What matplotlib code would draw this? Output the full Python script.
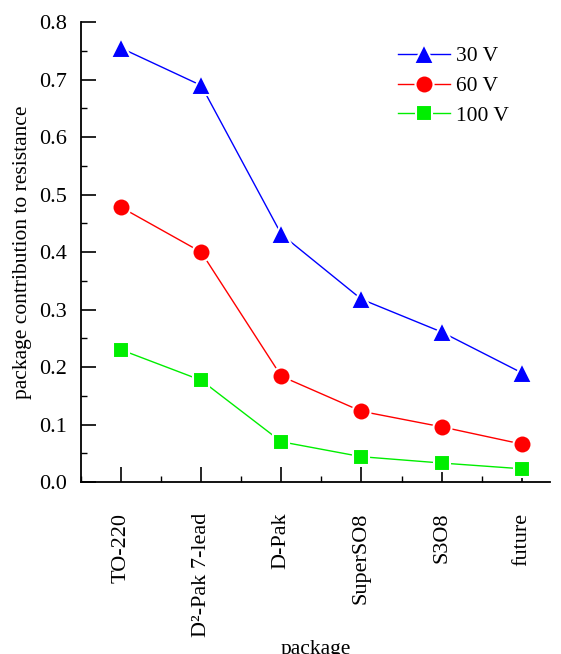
import numpy as np
import matplotlib
matplotlib.use("Agg")
import matplotlib.pyplot as plt
from matplotlib.ticker import MultipleLocator

packages = ["TO-220", "D²-Pak 7-lead", "D-Pak", "SuperSO8", "S3O8", "future"]
v30 = [0.755, 0.690, 0.431, 0.318, 0.261, 0.190]
v60 = [0.478, 0.400, 0.184, 0.123, 0.096, 0.066]
v100 = [0.230, 0.177, 0.070, 0.044, 0.033, 0.023]

plt.rcParams["font.family"] = ["Liberation Serif", "DejaVu Serif"]

fig = plt.figure(figsize=(5.61, 6.54), dpi=100)
ax = fig.add_axes([0.1444, 0.263, 0.8356, 0.703])

x = np.arange(1, len(packages) + 1)
series = [
    (v30, "30 V", "#0000ff", "^", 15),
    (v60, "60 V", "#ff0000", "o", 13),
    (v100, "100 V", "#00ee00", "s", 11.5),
]
for vals, lab, col, mk, ms in series:
    ax.plot(x, vals, color=col, lw=1.0, marker=mk, ms=ms,
            mfc=col, mec="white", mew=1.5, label=lab)

ax.set_xlim(0.5, 6.35)
ax.set_ylim(0, 0.8)
ax.set_xticks(x)
ax.set_xticklabels(packages, rotation=90, va="top")
ax.xaxis.set_minor_locator(MultipleLocator(0.5))
ax.yaxis.set_major_locator(MultipleLocator(0.1))
ax.yaxis.set_minor_locator(MultipleLocator(0.05))
ax.yaxis.set_major_formatter(matplotlib.ticker.FormatStrFormatter("%.1f"))

ax.spines["top"].set_visible(False)
ax.spines["right"].set_visible(False)
for s in ["left", "bottom"]:
    ax.spines[s].set_linewidth(1.3)

ax.tick_params(axis="both", which="major", direction="in", length=11, width=1.2, labelsize=16)
ax.tick_params(axis="both", which="minor", direction="in", length=4, width=1.0)
ax.tick_params(axis="x", which="major", pad=22)
ax.tick_params(axis="y", which="major", pad=10)

ax.set_ylabel("package contribution to resistance", fontsize=15.5, labelpad=5)
ax.set_xlabel("package", fontsize=15.5, labelpad=2)

leg = ax.legend(loc="upper right", bbox_to_anchor=(0.955, 0.99), frameon=False,
                fontsize=15.5, handlelength=2.4, handletextpad=0.3, labelspacing=0.45,
                markerscale=1.0)

fig.savefig("out.png", dpi=100)
